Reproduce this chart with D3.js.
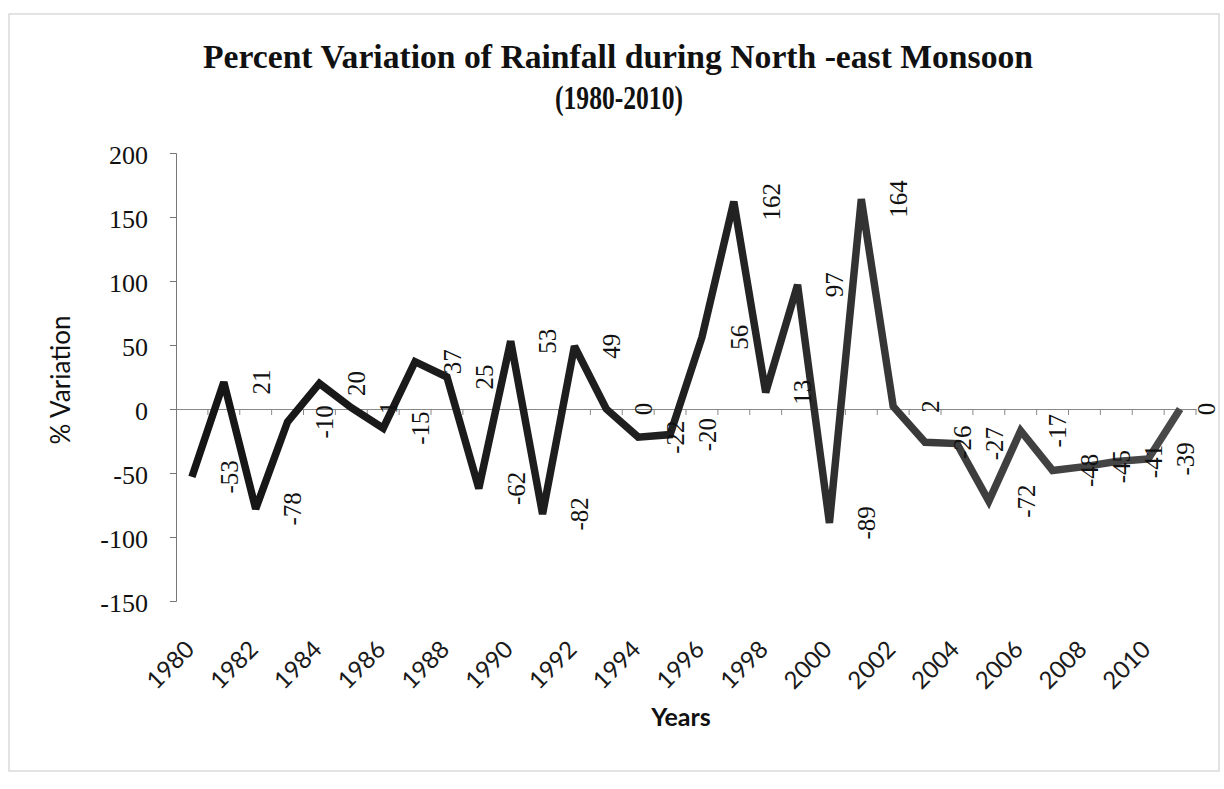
<!DOCTYPE html>
<html>
<head>
<meta charset="utf-8">
<script src="https://cdn.jsdelivr.net/npm/d3@7"></script>
<style>
  body { margin: 0; background: #fff; }
  svg { display: block; }
</style>
</head>
<body>
<svg id="chart" width="1224" height="789"></svg>
<script>
// dados
const anos = d3.range(1980, 2012);
const variacao = [-53, 21, -78, -10, 20, 1, -15, 37, 25, -62, 53, -82, 49, 0, -22, -20,
                  56, 162, 13, 97, -89, 164, 2, -26, -27, -72, -17, -48, -45, -41, -39, 0];
const anosRotulo = d3.range(1980, 2011, 2);
const ticksY = [200, 150, 100, 50, 0, -50, -100, -150];

const svg = d3.select("#chart");
const dados = anos.map((a, i) => ({ ano: a, v: variacao[i] }));

// moldura externa
svg.append("rect")
    .attr("x", 9).attr("y", 14)
    .attr("width", 1210).attr("height", 757)
    .attr("fill", "none")
    .attr("stroke", "#d0d0d0")
    .attr("stroke-width", 1.2);

// escalas
const x = d3.scaleBand().domain(anos).range([176, 1196]).padding(0);
const cx = a => x(a) + x.bandwidth() / 2;
const y = d3.scaleLinear().domain([-150, 200]).range([601, 153]);

// titulo (glifos mais altos, como no original)
const serif = "'Liberation Serif', 'Times New Roman', serif";
svg.append("text")
    .attr("transform", "translate(618,68) scale(1,1.3)")
    .attr("text-anchor", "middle")
    .attr("textLength", 830)
    .attr("lengthAdjust", "spacingAndGlyphs")
    .style("font-family", serif)
    .style("font-weight", "bold")
    .style("font-size", "26px")
    .attr("fill", "#111")
    .text("Percent Variation of Rainfall during North -east Monsoon");

svg.append("text")
    .attr("transform", "translate(619,109) scale(1,1.3)")
    .attr("text-anchor", "middle")
    .attr("textLength", 128)
    .attr("lengthAdjust", "spacingAndGlyphs")
    .style("font-family", serif)
    .style("font-weight", "bold")
    .style("font-size", "26px")
    .attr("fill", "#111")
    .text("(1980-2010)");

// eixo Y
const eixoY = svg.append("g")
    .attr("transform", "translate(176,0)")
    .call(d3.axisLeft(y).tickValues(ticksY).tickSize(6).tickPadding(22)
        .tickFormat(d => String(d)));
eixoY.select(".domain").attr("stroke", "#777");
eixoY.selectAll(".tick line").attr("stroke", "#777");
eixoY.selectAll(".tick text")
    .attr("dy", "0.4em")
    .attr("fill", "#111")
    .style("font-family", serif)
    .style("font-size", "26px");

// linha do zero (eixo X)
const eixoX = svg.append("g")
    .attr("transform", `translate(0,${y(0)})`)
    .call(d3.axisBottom(x).tickSize(0).tickFormat(""));
eixoX.select(".domain").attr("stroke", "#888").attr("stroke-width", 1.2);
eixoX.selectAll(".tick").remove();

svg.append("g")
    .selectAll("line")
    .data(anos)
    .join("line")
    .attr("x1", d => x(d) + x.bandwidth())
    .attr("x2", d => x(d) + x.bandwidth())
    .attr("y1", y(0))
    .attr("y2", y(0) + 6)
    .attr("stroke", "#888");

// rotulos dos anos
svg.append("g")
    .selectAll("text")
    .data(anosRotulo)
    .join("text")
    .attr("transform", d => `translate(${cx(d) + 4},651) rotate(-45)`)
    .attr("text-anchor", "end")
    .attr("fill", "#1a1a1a")
    .style("font-family", "Lato, 'Open Sans', sans-serif")
    .style("font-size", "24px")
    .text(d => d);

// titulos dos eixos
svg.append("text")
    .attr("transform", "translate(70,380) rotate(-90)")
    .attr("text-anchor", "middle")
    .attr("fill", "#111")
    .style("font-family", "Lato, 'Open Sans', sans-serif")
    .style("font-size", "26px")
    .text("% Variation");

svg.append("text")
    .attr("x", 681).attr("y", 726)
    .attr("text-anchor", "middle")
    .attr("fill", "#111")
    .style("font-family", "Lato, 'Open Sans', sans-serif")
    .style("font-size", "25px")
    .style("font-weight", "bold")
    .text("Years");

// gradiente da linha (parte direita mais clara no original)
const grad = svg.append("defs").append("linearGradient")
    .attr("id", "tom")
    .attr("gradientUnits", "userSpaceOnUse")
    .attr("x1", 176).attr("x2", 1196).attr("y1", 0).attr("y2", 0);
grad.append("stop").attr("offset", "0%").attr("stop-color", "#151515");
grad.append("stop").attr("offset", "55%").attr("stop-color", "#222");
grad.append("stop").attr("offset", "72%").attr("stop-color", "#3a3a3a");
grad.append("stop").attr("offset", "100%").attr("stop-color", "#4a4a4a");

// linha
const linha = d3.line().x(d => cx(d.ano)).y(d => y(d.v));
svg.append("path")
    .datum(dados)
    .attr("d", linha)
    .attr("fill", "none")
    .attr("stroke", "url(#tom)")
    .attr("stroke-width", 7.5)
    .attr("stroke-linejoin", "miter")
    .attr("stroke-miterlimit", 3);

// rotulos de dados (deslocados para a direita, verticais)
svg.append("g")
    .selectAll("text")
    .data(dados)
    .join("text")
    .attr("transform", d => `translate(${Math.min(cx(d.ano) + 37, 1206)},${y(d.v)}) rotate(-90)`)
    .attr("text-anchor", "middle")
    .attr("dy", "0.35em")
    .attr("fill", "#111")
    .style("font-family", serif)
    .style("font-size", "25px")
    .text(d => d.v);
</script>
</body>
</html>
